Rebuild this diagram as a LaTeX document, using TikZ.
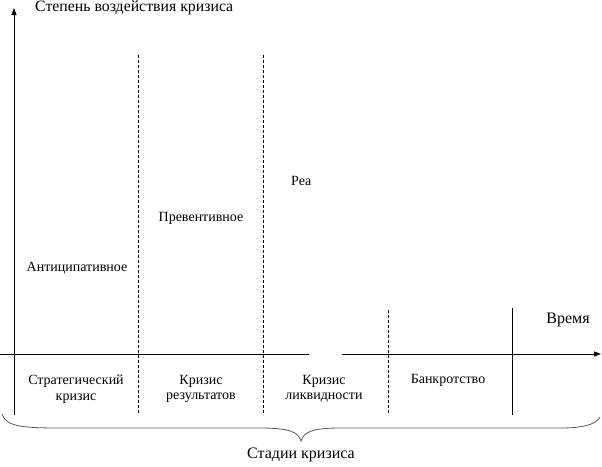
\documentclass[tikz,border=0pt]{standalone}
\usepackage{fontspec}
\setmainfont{Liberation Serif}
\usetikzlibrary{arrows.meta}
\begin{document}
\begin{tikzpicture}[x=1pt,y=-1pt,
  lbl/.style={font=\rmfamily\fontsize{14}{15.5}\selectfont, inner sep=1pt, align=center},
  biglbl/.style={lbl, font=\rmfamily\fontsize{16}{17}\selectfont},
  axis/.style={line width=0.8pt, -{Triangle[length=7pt,width=5pt]}},
  divider/.style={line width=0.6pt, dash pattern=on 3pt off 2pt},
  solidline/.style={line width=0.7pt}]
\useasboundingbox (0,0) rectangle (602,466);
% axes
\coordinate (yb) at (14,415);
\coordinate (yt) at (14,8);
\draw[axis] (yb) -- (yt);
\coordinate (xl) at (0,354);
\coordinate (xg1) at (309,354);
\coordinate (xg2) at (342,354);
\coordinate (xr) at (601,354);
\draw[line width=0.8pt] (xl) -- (xg1);
\draw[axis] (xg2) -- (xr);
% dividers
\coordinate (d1t) at (138,55); \coordinate (d1b) at (138,415);
\coordinate (d2t) at (263,55); \coordinate (d2b) at (263,415);
\coordinate (d3t) at (388,310); \coordinate (d3b) at (388,415);
\coordinate (s1t) at (512,308); \coordinate (s1b) at (512,415);
\draw[divider] (d1t) -- (d1b);
\draw[divider] (d2t) -- (d2b);
\draw[divider] (d3t) -- (d3b);
\draw[solidline] (s1t) -- (s1b);
% brace
\coordinate (bl) at (2,414);
\coordinate (bm) at (301,441);
\coordinate (br) at (600,417);
\draw[line width=0.8pt, gray!70!black] (bl) .. controls (6,426) and (20,428) .. (60,428)
  -- (260,428) .. controls (290,428) and (298,432) .. (bm)
  .. controls (304,432) and (312,428) .. (340,428)
  -- (560,428) .. controls (585,428) and (596,424) .. (br);
% texts
\node[biglbl, font=\rmfamily\fontsize{15.8}{17}\selectfont, anchor=west] (title) at (34,8) {Степень воздействия кризиса};
\node[lbl] (anti) at (77,268) {Антиципативное};
\node[lbl] (prev) at (201,218) {Превентивное};
\node[lbl, anchor=west] (rea) at (290,181) {Реа};
\node[biglbl] (time) at (568,320) {Время};
\node[lbl] (strat) at (76,389) {Стратегический\\кризис};
\node[lbl] (res) at (201,389) {Кризис\\результатов};
\node[lbl] (liq) at (324,389) {Кризис\\ликвидности};
\node[lbl] (bank) at (448,380) {Банкротство};
\node[biglbl] (stages) at (301,455) {Стадии кризиса};
\end{tikzpicture}
\end{document}
